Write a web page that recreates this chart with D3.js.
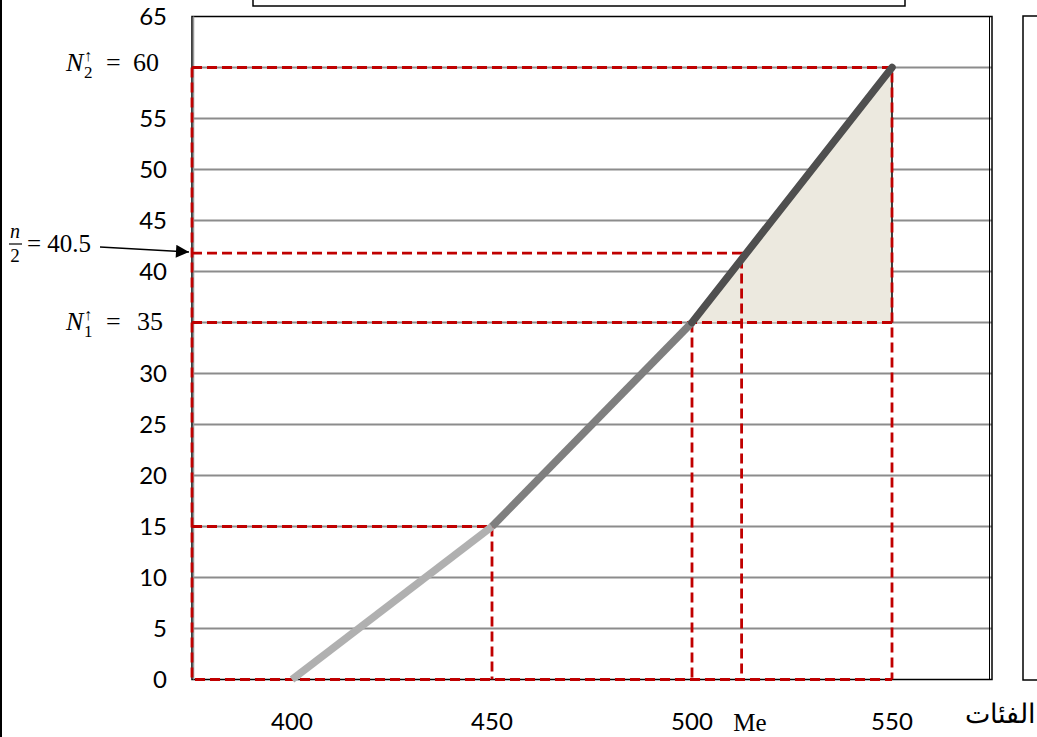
<!DOCTYPE html>
<html><head><meta charset="utf-8">
<script src="https://cdn.jsdelivr.net/npm/d3@7"></script>
<style>html,body{margin:0;padding:0;background:#fff;overflow:hidden}</style>
</head><body>
<svg id="c" width="1037" height="737"></svg>
<script>
// ---- data ----
const classBounds = [400, 450, 500, 550];
const cumFreq = [0, 15, 35, 60];
const segColors = ["#b0b0b0", "#7f7f7f", "#4f4f4f"];
const yTicks = [0, 5, 10, 15, 20, 25, 30, 40, 45, 50, 55, 65];
const gridValues = [5, 10, 15, 20, 25, 30, 35, 40, 45, 50, 55, 60];
const xTicks = [400, 450, 500, 550];
const medianX = 512.4;
const halfNDrawn = 41.8;
const halfNLabel = "40.5";
const N1 = 35, N2 = 60;

const svg = d3.select("#c");
const x = d3.scaleLinear().domain([375, 575]).range([192, 992]);
const y = d3.scaleLinear().domain([0, 65]).range([679.5, 16.5]);
const tickFont = "Lato, 'Open Sans', sans-serif";
const mathFont = "'Liberation Serif', 'DejaVu Serif', serif";

// frame decorations
svg.append("rect").attr("x", 0).attr("y", 0).attr("width", 2).attr("height", 737).attr("fill", "#000");
svg.append("rect").attr("x", 253).attr("y", -10).attr("width", 652).attr("height", 16)
  .attr("fill", "none").attr("stroke", "#000").attr("stroke-width", 1.5);
svg.append("rect").attr("x", 1023).attr("y", 16).attr("width", 40).attr("height", 664)
  .attr("fill", "none").attr("stroke", "#000").attr("stroke-width", 1.5);

// gridlines
svg.append("g").selectAll("line").data(gridValues).join("line")
  .attr("x1", x(375)).attr("x2", x(575))
  .attr("y1", d => y(d)).attr("y2", d => y(d))
  .attr("stroke", "#8c8c8c").attr("stroke-width", 2);

// plot border
svg.append("rect").attr("x", x(375)).attr("y", y(65)).attr("width", x(575) - x(375)).attr("height", y(0) - y(65))
  .attr("fill", "none").attr("stroke", "#000").attr("stroke-width", 1.5);
svg.append("line").attr("x1", x(575) - 2.5).attr("x2", x(575) - 2.5).attr("y1", y(65)).attr("y2", y(0))
  .attr("stroke", "#000").attr("stroke-width", 1);
svg.append("line").attr("x1", x(375) + 1.5).attr("x2", x(375) + 1.5).attr("y1", y(65)).attr("y2", y(0))
  .attr("stroke", "#999").attr("stroke-width", 1.5);

// shaded triangle
const tri = [[classBounds[2], N1], [classBounds[3], N2], [classBounds[3], N1]];
svg.append("path").attr("d", d3.line().x(d => x(d[0])).y(d => y(d[1]))(tri) + "Z")
  .attr("fill", "#ece9df");
svg.append("line").attr("x1", x(classBounds[3])).attr("x2", x(classBounds[3]))
  .attr("y1", y(N2)).attr("y2", y(N1)).attr("stroke", "#000").attr("stroke-width", 1.5);

// red dashed guides
const red = "#c00000";
const guides = [
  [[375, N2], [classBounds[3], N2], [classBounds[3], 0]],
  [[375, N2], [375, 0], [classBounds[3], 0]],
  [[375, cumFreq[1]], [classBounds[1], cumFreq[1]], [classBounds[1], 0]],
  [[375, N1], [classBounds[3], N1]],
  [[classBounds[2], N1], [classBounds[2], 0]],
  [[375, halfNDrawn], [medianX, halfNDrawn], [medianX, 0]]
];
const gl = d3.line().x(d => x(d[0])).y(d => y(d[1]));
svg.append("g").selectAll("path").data(guides).join("path")
  .attr("d", gl).attr("fill", "none").attr("stroke", red).attr("stroke-width", 2.8)
  .attr("stroke-dasharray", "10,5");

// ogive segments
const segs = d3.range(classBounds.length - 1).map(i => ({
  a: [classBounds[i], cumFreq[i]], b: [classBounds[i + 1], cumFreq[i + 1]], c: segColors[i]
}));
svg.append("g").selectAll("line").data(segs).join("line")
  .attr("x1", d => x(d.a[0])).attr("y1", d => y(d.a[1]))
  .attr("x2", d => x(d.b[0])).attr("y2", d => y(d.b[1]))
  .attr("stroke", d => d.c).attr("stroke-width", 7.5)
  .attr("stroke-linecap", (d, i) => i === segs.length - 1 ? "round" : "butt");

// y tick labels
svg.append("g").selectAll("text").data(yTicks).join("text")
  .attr("x", 167).attr("y", d => y(d)).attr("dy", "0.35em")
  .attr("text-anchor", "end").attr("font-family", tickFont).attr("font-size", 24)
  .attr("fill", "#000").text(d => d);

// x tick labels
svg.append("g").selectAll("text").data(xTicks).join("text")
  .attr("x", d => x(d)).attr("y", 722).attr("dy", "0.35em")
  .attr("text-anchor", "middle").attr("font-family", tickFont).attr("font-size", 24)
  .attr("fill", "#000").text(d => d);
svg.append("text").attr("x", 750).attr("y", 731)
  .attr("text-anchor", "middle").attr("font-family", mathFont).attr("font-size", 25).text("Me");

// Arabic axis title
svg.append("text").attr("x", 1036).attr("y", 723)
  .attr("text-anchor", "end").attr("font-family", mathFont).attr("font-size", 27).text("الفئات");

// math labels N↑ = value
function nLabel(sub, val, base, xr) {
  const g = svg.append("g").attr("font-family", mathFont);
  g.append("text").attr("x", 66).attr("y", base).attr("font-size", 26)
    .attr("font-style", "italic").text("N");
  g.append("text").attr("x", 84).attr("y", base + 7).attr("font-size", 17).text(sub);
  g.append("text").attr("x", 84).attr("y", base - 10).attr("font-size", 16).text("↑");
  g.append("text").attr("x", 106).attr("y", base).attr("font-size", 26).text("=");
  g.append("text").attr("x", xr).attr("y", base).attr("font-size", 26)
    .attr("text-anchor", "end").text(val);
}
nLabel("2", N2, 71, 159);
nLabel("1", N1, 330, 163);

// n/2 label with arrow
const lg = svg.append("g").attr("font-family", mathFont);
lg.append("text").attr("x", 15).attr("y", 238).attr("font-size", 20)
  .attr("font-style", "italic").attr("text-anchor", "middle").text("n");
lg.append("line").attr("x1", 9).attr("x2", 22).attr("y1", 244).attr("y2", 244).attr("stroke", "#000").attr("stroke-width", 1.2);
lg.append("text").attr("x", 15).attr("y", 262).attr("font-size", 19)
  .attr("text-anchor", "middle").text("2");
lg.append("text").attr("x", 27).attr("y", 252).attr("font-size", 25)
  .text("= " + halfNLabel);
svg.append("defs").append("marker").attr("id", "ah").attr("viewBox", "0 0 10 10")
  .attr("refX", 10).attr("refY", 5).attr("markerWidth", 16).attr("markerHeight", 13)
  .attr("markerUnits", "userSpaceOnUse").attr("orient", "auto")
  .append("path").attr("d", "M0,0L10,5L0,10Z").attr("fill", "#000");
svg.append("line").attr("x1", 100).attr("y1", 247).attr("x2", 189).attr("y2", 252)
  .attr("stroke", "#000").attr("stroke-width", 1.5).attr("marker-end", "url(#ah)");
</script>
</body></html>
